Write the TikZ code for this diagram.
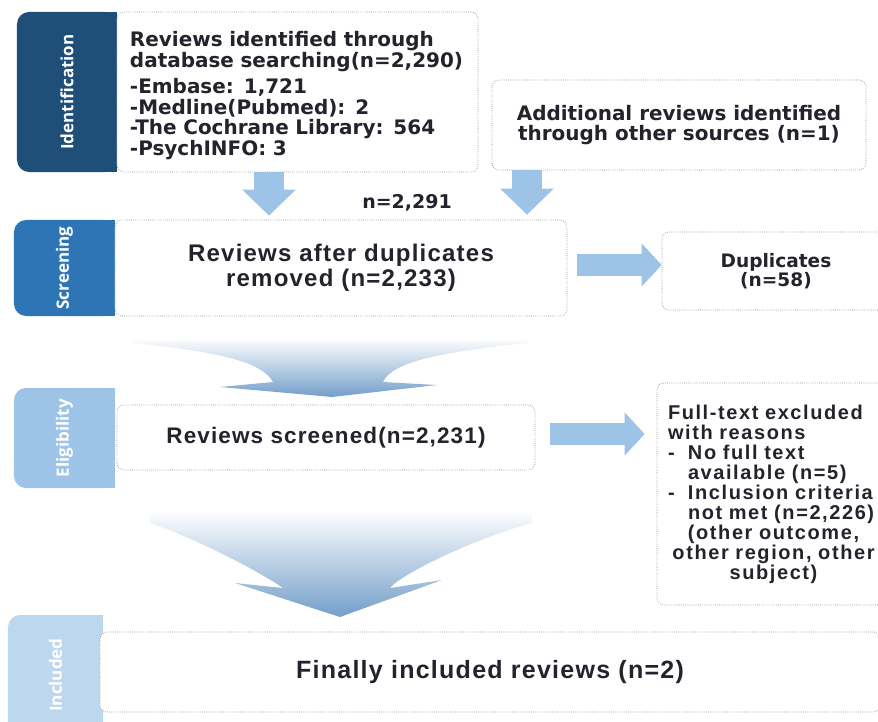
\documentclass[tikz,border=0pt]{standalone}
\usepackage{fontspec}
\setmainfont{Liberation Sans}
\newfontfamily\widefont{DejaVu Sans}
\newfontfamily\boxfont[LetterSpace=5]{Liberation Sans}
\newfontfamily\notefont[LetterSpace=8]{Liberation Sans}
\newfontfamily\tabfont{Open Sans}
\usepackage{tikz}
\usetikzlibrary{arrows.meta,positioning,calc,backgrounds}
\definecolor{idnavy}{RGB}{31,78,121}
\definecolor{scrblue}{RGB}{46,117,182}
\definecolor{elblue}{RGB}{157,195,230}
\definecolor{incblue}{RGB}{189,215,238}
\definecolor{flowblue}{RGB}{157,195,230}
\definecolor{chevblue}{RGB}{116,158,202}
\definecolor{boxgray}{RGB}{140,140,140}
\definecolor{inkgray}{RGB}{35,35,45}
\tikzstyle{flowbox} = [rectangle, rounded corners=1.75mm, draw=boxgray, densely dotted, line width=0.5pt, fill=white, text=inkgray, align=center, inner sep=0pt]
\tikzstyle{phasetab} = [rectangle, rounded corners=3mm, text=white, font=\tabfont\bfseries\fontsize{12.1}{12.1}\selectfont, inner sep=0pt]
\tikzstyle{downarrow} = [draw=flowblue, line width=7.5mm, -{Triangle[width=13mm,length=6.5mm]}]
\tikzstyle{rightarrow} = [draw=flowblue, line width=5.5mm, -{Triangle[width=10.5mm,length=5mm]}]
\tikzstyle{chevron} = [top color=white, middle color=chevblue!45, bottom color=chevblue]

\begin{document}
\begin{tikzpicture}[x=0.25mm,y=-0.25mm]
\useasboundingbox (0,0) rectangle (878,722);
\clip (0,0) rectangle (878,722);

% Phase tabs (left corners rounded only)
\node[phasetab, fill=idnavy, minimum width=25mm, minimum height=40mm] (idtab) at (67,92) {\rotatebox{90}{Identification}};
\node[phasetab, fill=scrblue, minimum width=25.25mm, minimum height=24mm] (scrtab) at (64.5,268) {\rotatebox{90}{Screening}};
\node[phasetab, fill=elblue, minimum width=25.25mm, minimum height=25mm] (eltab) at (64.5,438) {\rotatebox{90}{Eligibility}};
\node[phasetab, fill=incblue, minimum width=23.75mm, minimum height=30mm] (inctab) at (55.5,675) {\rotatebox{90}{Included}};
\begin{scope}[on background layer]
\fill[idnavy] (idtab.north) rectangle (idtab.south east);
\fill[scrblue] (scrtab.north) rectangle (scrtab.south east);
\fill[elblue] (eltab.north) rectangle (eltab.south east);
\fill[incblue] (inctab.north) rectangle (inctab.south east);
\end{scope}

% Identification
\node[flowbox, minimum width=90.25mm, minimum height=40mm, text width=83.75mm, align=left,
  font=\widefont\bfseries\fontsize{14.2}{14.7}\selectfont] (idbox) at (297.5,92)
  {\rule{0pt}{16pt}Reviews identified through\\ database searching(n=2,290)\\[4pt]
   -Embase: 1,721\\ -Medline(Pubmed): 2\\ -The Cochrane Library: 564\\ -PsychINFO: 3};
\node[flowbox, minimum width=93.5mm, minimum height=22.5mm,
  font=\widefont\bfseries\fontsize{14.2}{14.6}\selectfont] (addbox) at (679,125)
  {Additional reviews identified\\ through other sources (n=1)};
\node[text=inkgray, font=\widefont\bfseries\fontsize{13.5}{13.5}\selectfont] (ncount) at (407,203) {n=2,291};

% Screening
\node[flowbox, minimum width=113mm, minimum height=24mm,
  font=\boxfont\bfseries\fontsize{17.1}{17.8}\selectfont] (scrbox) at (341,268)
  {Reviews after duplicates\\ removed (n=2,233)};
\node[flowbox, minimum width=57mm, minimum height=19.5mm,
  font=\widefont\bfseries\fontsize{13.2}{13.6}\selectfont] (dupbox) at (776,271) {Duplicates\\(n=58)};

% Eligibility
\node[flowbox, minimum width=104.5mm, minimum height=16.25mm,
  font=\boxfont\bfseries\fontsize{16}{16}\selectfont] (scnbox) at (326,437.5)
  {Reviews screened(n=2,231)};
\node[flowbox, minimum width=58.25mm, minimum height=55.5mm, text width=52.75mm, align=left,
  font=\notefont\bfseries\fontsize{14.2}{14.2}\selectfont] (exbox) at (773.5,494)
  {Full-text excluded\\ with reasons\\
   \makebox[5mm][l]{-}No full text\\ \hspace*{5mm}available (n=5)\\
   \makebox[5mm][l]{-}Inclusion criteria\\ \hspace*{5mm}not met (n=2,226)\par
   \centering (other outcome,\\ other region, other\\ subject)\par};

% Included
\node[flowbox, minimum width=195mm, minimum height=20mm,
  font=\boxfont\bfseries\fontsize{17.8}{17.8}\selectfont] (finbox) at (490,672)
  {Finally included reviews (n=2)};

% Arrows
\coordinate (dn1) at (269,0);
\coordinate (dn2) at (527,0);
\coordinate (rt1) at (0,265);
\coordinate (rt2) at (0,434);
\draw[downarrow, shorten >=1mm] (idbox.south -| dn1) -- (scrbox.north -| dn1);
\draw[downarrow, shorten >=1.25mm] (addbox.south -| dn2) -- (scrbox.north -| dn2);
\draw[rightarrow, shorten <=2.5mm] (scrbox.east |- rt1) -- (dupbox.west |- rt1);
\draw[rightarrow, shorten <=3.75mm, shorten >=3mm] (scnbox.east |- rt2) -- (exbox.west |- rt2);

% Shaded chevrons between phases
\shade[chevron] (133,338) -- (528,338) -- (528,343) .. controls (440,352) and (392,362) .. (383,382)
  -- (437,385) -- (332,397) -- (220,387) -- (273,382) .. controls (262,362) and (220,352) .. (133,343) -- cycle;
\shade[chevron] (150,510) -- (532,510) -- (532,523) .. controls (470,540) and (400,575) .. (390,588)
  -- (442,580) -- (340,617) -- (235,583) -- (283,588) .. controls (265,575) and (200,540) .. (150,523) -- cycle;
\end{tikzpicture}
\end{document}
